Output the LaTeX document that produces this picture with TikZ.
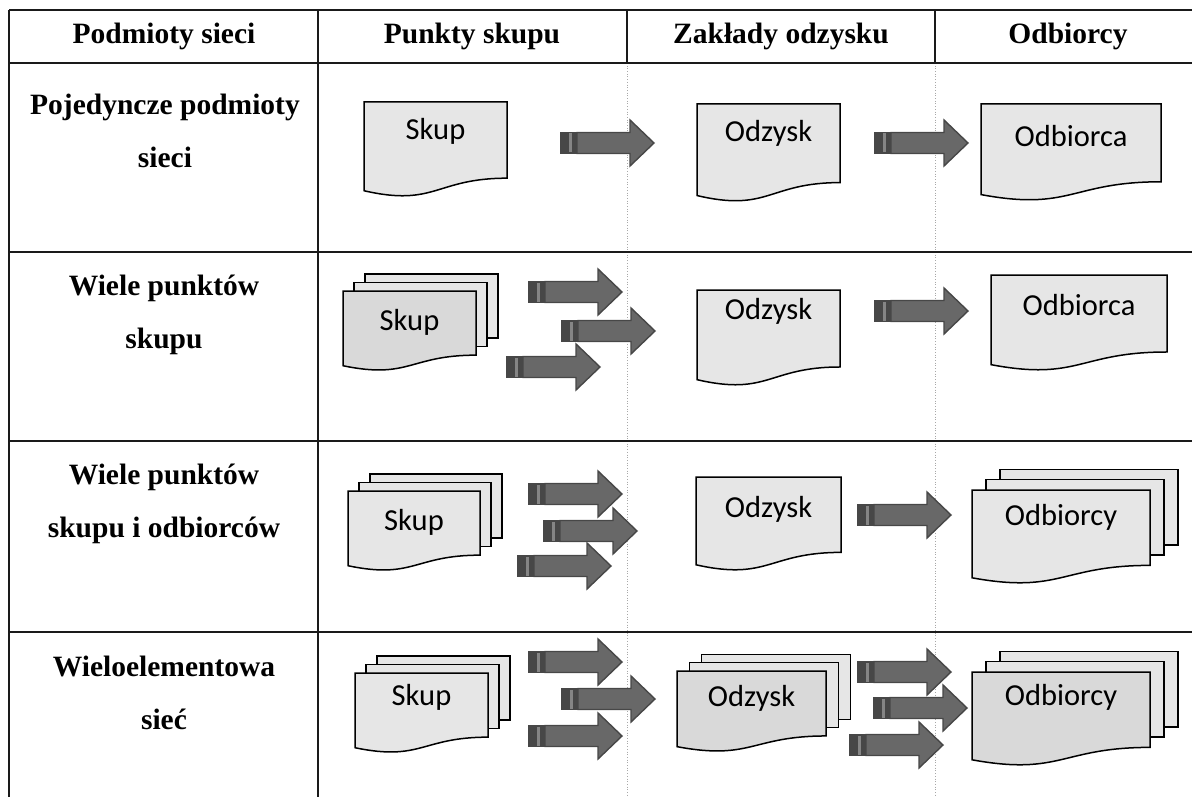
\documentclass[tikz,border=0pt]{standalone}
\usepackage{fontspec}
\setmainfont{Liberation Serif}
\newfontfamily\docfont{Carlito}

\definecolor{sheet}{HTML}{E6E6E6}
\definecolor{sheetdark}{HTML}{D9D9D9}
\definecolor{arrbody}{HTML}{686868}
\definecolor{arredge}{HTML}{474747}
\definecolor{arrstripe}{HTML}{858585}
\definecolor{rulecol}{HTML}{1A1A1A}
\definecolor{gridcol}{HTML}{A8A8A8}

% a document sheet with a wavy lower edge, plus its label
\newcommand{\docshape}[8]{% name, x, y, w, h, fill, label, label y
  \draw[docedge, fill=#6] (#2,#3) -- ({#2+#4},#3) -- ({#2+#4},{#3+0.802*#5})
     .. controls ({#2+0.5*#4},{#3+0.802*#5}) and ({#2+0.5*#4},{#3+1.107*#5}) .. (#2,{#3+0.934*#5}) -- cycle;
  \node[doclabel] (#1) at ({#2+0.5*#4},#8) {#7};
}
% the two sheets lying behind a stacked document
\newcommand{\backsheets}[6]{% x, y, w, h, dx, dy
  \draw[docedge, fill=sheet] ({#1+2*#5},{#2-2*#6}) rectangle ++(#3,{0.802*#4});
  \draw[docedge, fill=sheet] ({#1+#5},{#2-#6}) rectangle ++(#3,{0.802*#4});
}

\begin{document}
\begin{tikzpicture}[x=1pt,y=-1pt,
  rule/.style={draw=rulecol, line width=1.4pt},
  gridline/.style={draw=gridcol, line width=0.7pt, dotted},
  head/.style={font=\fontsize{29.5}{33}\selectfont\bfseries, inner sep=0pt},
  rowlabel/.style={font=\fontsize{29.5}{53.5}\selectfont\bfseries, align=center, inner sep=0pt},
  docedge/.style={draw=black, line width=1.5pt, line join=miter},
  doclabel/.style={font=\docfont\fontsize{30.5}{33}\selectfont, inner sep=0pt},
  blockarrow/.pic={
    \filldraw[fill=arredge, draw=arredge, line width=1pt] (0,-10.5) rectangle (17,10.5);
    \fill[arrstripe] (8.5,-9.5) rectangle (11.5,9.5);
    \filldraw[fill=arrbody, draw=arredge, line width=1.4pt, line join=miter]
      (17,-10.5) -- (70,-10.5) -- (70,-23) -- (94,0) -- (70,23) -- (70,10.5) -- (17,10.5) -- cycle;
  }
]
\useasboundingbox (0,0) rectangle (1192,797);

% table rules
\draw[gridline] (627,63) -- (627,797);
\draw[gridline] (935,63) -- (935,797);
\draw[rule] (9,10) -- (1192,10);
\draw[rule] (9,63) -- (1192,63);
\draw[rule] (9,252) -- (1192,252);
\draw[rule] (9,441) -- (1192,441);
\draw[rule] (9,632) -- (1192,632);
\draw[rule] (9,10) -- (9,797);
\draw[rule] (318,10) -- (318,797);
\draw[rule] (627,10) -- (627,63);
\draw[rule] (935,10) -- (935,63);

% column headings
\node[head] (h1) at (164,36) {Podmioty sieci};
\node[head] (h2) at (472,36) {Punkty skupu};
\node[head] (h3) at (781,36) {Zakłady odzysku};
\node[head] (h4) at (1068,36) {Odbiorcy};

% row headings
\node[rowlabel] (r1) at (165,131) {Pojedyncze podmioty\\sieci};
\node[rowlabel] (r2) at (164,315) {Wiele punktów\\skupu};
\node[rowlabel] (r3) at (164,504) {Wiele punktów\\skupu i odbiorców};
\node[rowlabel] (r4) at (164,693) {Wieloelementowa\\sieć};

% row 1
\docshape{skupA}{364}{102}{143}{95}{sheet}{Skup}{131}
\pic (arA1) at (560,143) {blockarrow};
\docshape{odzyskA}{697}{104}{143}{98}{sheet}{Odzysk}{133}
\pic (arA2) at (874,143) {blockarrow};
\docshape{odbiorcaA}{981}{104}{180}{97}{sheet}{Odbiorca}{136}

% row 2
\backsheets{343}{291}{133}{80}{11}{8.5}
\docshape{skupB}{343}{291}{133}{80}{sheetdark}{Skup}{322}
\pic (arB1) at (528,292) {blockarrow};
\pic (arB2) at (561,331) {blockarrow};
\pic (arB3) at (506,367) {blockarrow};
\docshape{odzyskB}{697}{290}{143}{96}{sheet}{Odzysk}{311}
\pic (arB4) at (874,311) {blockarrow};
\docshape{odbiorcaB}{991}{275}{176}{96}{sheet}{Odbiorca}{305}

% row 3
\backsheets{348}{491}{132}{80}{11}{8.5}
\docshape{skupC}{348}{491}{132}{80}{sheet}{Skup}{522}
\pic (arC1) at (528,494) {blockarrow};
\pic (arC2) at (543,531) {blockarrow};
\pic (arC3) at (517,566) {blockarrow};
\docshape{odzyskC}{696}{477}{145}{94}{sheet}{Odzysk}{509}
\pic (arC4) at (857,515) {blockarrow};
\backsheets{972}{490}{178}{94}{14}{10.3}
\docshape{odbiorcyC}{972}{490}{178}{94}{sheet}{Odbiorcy}{517}

% row 4
\backsheets{355}{673}{133}{80}{11}{8.5}
\docshape{skupD}{355}{673}{133}{80}{sheet}{Skup}{697}
\pic (arD1) at (528,662) {blockarrow};
\pic (arD2) at (561,699) {blockarrow};
\pic (arD3) at (528,736) {blockarrow};
\backsheets{677}{671}{149}{81}{12.3}{8.3}
\docshape{odzyskD}{677}{671}{149}{81}{sheetdark}{Odzysk}{698}
\pic (arD4) at (857,672) {blockarrow};
\pic (arD5) at (873,708) {blockarrow};
\pic (arD6) at (849,745) {blockarrow};
\backsheets{972}{672}{178}{94}{14}{10.3}
\docshape{odbiorcyD}{972}{672}{178}{94}{sheetdark}{Odbiorcy}{697}
\end{tikzpicture}
\end{document}
